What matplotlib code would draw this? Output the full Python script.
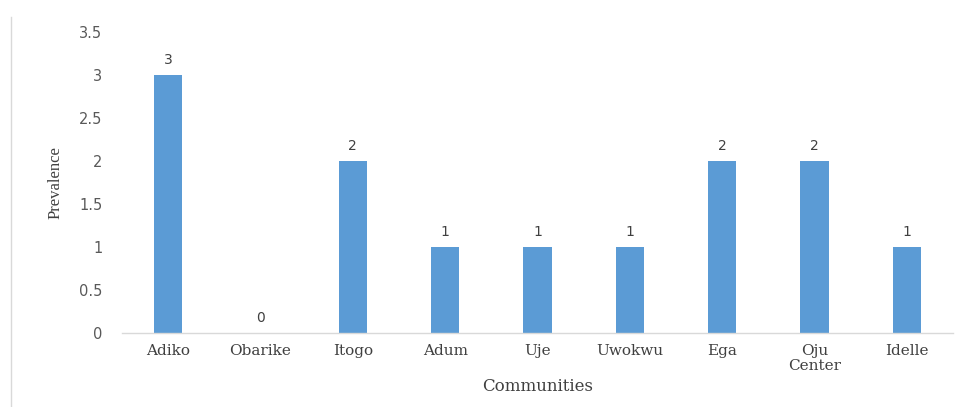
import matplotlib
matplotlib.use("Agg")
import matplotlib.pyplot as plt
from matplotlib.lines import Line2D

categories = ["Adiko", "Obarike", "Itogo", "Adum", "Uje", "Uwokwu", "Ega", "Oju\nCenter", "Idelle"]
values = [3, 0, 2, 1, 1, 1, 2, 2, 1]
yticks = [0, 0.5, 1, 1.5, 2, 2.5, 3, 3.5]
ytick_labels = ["0", "0.5", "1", "1.5", "2", "2.5", "3", "3.5"]

fig = plt.figure(figsize=(9.6, 4.07), dpi=100)
ax = fig.add_axes([122/960, 1-333/407, (953-122)/960, (333-32)/407])

x = list(range(len(categories)))
bars = ax.bar(x, values, width=0.31, color="#5B9BD5", zorder=2)
for xi, v in zip(x, values):
    ax.annotate(str(v), (xi, v), xytext=(0, 6), textcoords="offset points",
                ha="center", va="bottom", fontsize=10, color="#404040",
                family="DejaVu Sans")

ax.set_xlim(-0.5, len(categories) - 0.5)
ax.set_ylim(0, 3.5)
ax.set_yticks(yticks)
ax.set_yticklabels(ytick_labels, family="DejaVu Sans", fontsize=10.5, color="#595959")
ax.set_xticks(x)
ax.set_xticklabels(categories, family="DejaVu Serif", fontsize=11, color="#404040",
                   linespacing=1.05)
ax.tick_params(axis="both", length=0)
ax.tick_params(axis="y", pad=14)
ax.tick_params(axis="x", pad=8)

for s in ["top", "right", "left"]:
    ax.spines[s].set_visible(False)
ax.spines["bottom"].set_color("#D9D9D9")
ax.spines["bottom"].set_linewidth(1)

ax.set_xlabel("Communities", family="DejaVu Serif", fontsize=12, color="#404040")
ax.set_ylabel("Prevalence", family="Liberation Serif", fontsize=12, color="#404040")
ax.yaxis.set_label_coords(-0.07, 0.5)
ax.xaxis.set_label_coords(0.5, -0.15)

fig.add_artist(Line2D([11/960, 11/960], [0, 1-17/407], transform=fig.transFigure,
                      color="#D9D9D9", linewidth=1))

fig.savefig("out.png", dpi=100)
